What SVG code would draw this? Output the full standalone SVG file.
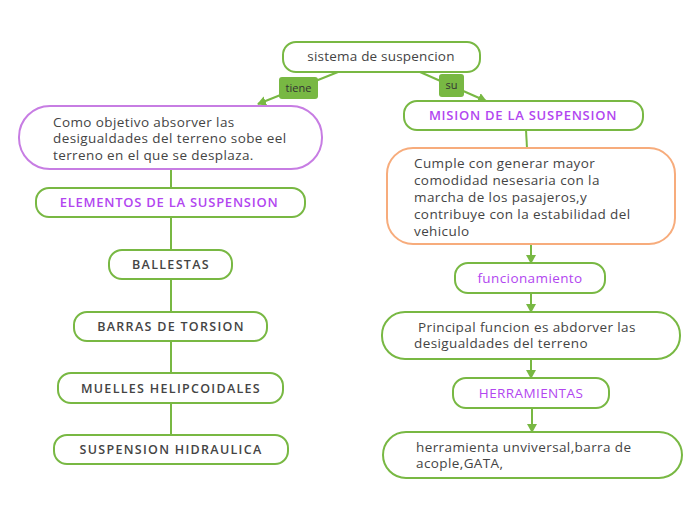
<svg xmlns="http://www.w3.org/2000/svg" width="697" height="520" viewBox="0 0 697 520">
<defs>
<marker id="ah" markerWidth="10" markerHeight="10" refX="8" refY="5" orient="auto" markerUnits="userSpaceOnUse">
<path d="M0,0 L9,5 L0,10 Z" fill="#78b843"/>
</marker>
</defs>
<style>
.b{fill:#fff;stroke:#78b843;stroke-width:2}
.p{fill:#fff;stroke:#c77de3;stroke-width:2}
.o{fill:#fff;stroke:#f7ac7c;stroke-width:2}
.c{stroke:#78b843;stroke-width:2;fill:none}
text{font-family:"Open Sans","Noto Sans",sans-serif;font-size:13.5px;letter-spacing:0.4px;fill:#444}
.r{letter-spacing:0.2px}
.t{fill:#b246f0;font-weight:600;font-size:13px;letter-spacing:0.75px}
.f{fill:#b246f0;font-size:13.5px;letter-spacing:0.4px}
.k{font-weight:600;font-size:12.5px;letter-spacing:1.3px;fill:#444}
.l{font-size:11px;letter-spacing:0;fill:#333}
</style>
<rect width="697" height="520" fill="#fff"/>
<g id="connectors">
<line class="c" x1="338" y1="72" x2="258" y2="104" marker-end="url(#ah)"/>
<line class="c" x1="420" y1="72" x2="486" y2="101" marker-end="url(#ah)"/>
<line class="c" x1="171" y1="169" x2="171" y2="188"/>
<line class="c" x1="171" y1="217" x2="171" y2="435"/>
<line class="c" x1="526" y1="130" x2="527" y2="148"/>
<line class="c" x1="531" y1="244" x2="531" y2="263" marker-end="url(#ah)"/>
<line class="c" x1="531" y1="293" x2="531" y2="312" marker-end="url(#ah)"/>
<line class="c" x1="531" y1="359" x2="531" y2="378" marker-end="url(#ah)"/>
<line class="c" x1="532" y1="408" x2="532" y2="432" marker-end="url(#ah)"/>
</g>
<g id="root">
<rect class="b" x="283" y="42" width="197" height="30" rx="13"/>
<text class="r" x="381" y="61" text-anchor="middle">sistema de suspencion</text>
</g>
<g id="label-tiene">
<rect x="279" y="77" width="39" height="22" rx="3" fill="#78b843"/>
<text class="l" x="298.5" y="92" text-anchor="middle">tiene</text>
</g>
<g id="label-su">
<rect x="439" y="74" width="25" height="23" rx="3" fill="#78b843"/>
<text class="l" x="451.5" y="89" text-anchor="middle">su</text>
</g>
<g id="objetivo">
<rect class="p" x="19" y="106" width="303" height="63" rx="31"/>
<text x="53" y="127">Como objetivo absorver las</text>
<text x="53" y="143.3">desigualdades del terreno sobe eel</text>
<text x="53" y="159.6">terreno en el que se desplaza.</text>
</g>
<g id="elementos">
<rect class="b" x="36" y="188" width="269" height="29" rx="13"/>
<text class="t" x="169" y="207" text-anchor="middle">ELEMENTOS DE LA SUSPENSION</text>
</g>
<g id="ballestas">
<rect class="b" x="109" y="250" width="123" height="29" rx="13"/>
<text class="k" x="171" y="269" text-anchor="middle">BALLESTAS</text>
</g>
<g id="barras">
<rect class="b" x="74" y="312" width="193" height="29" rx="13"/>
<text class="k" x="171" y="331" text-anchor="middle">BARRAS DE TORSION</text>
</g>
<g id="muelles">
<rect class="b" x="58" y="373" width="225" height="30" rx="13"/>
<text class="k" x="171" y="393" text-anchor="middle">MUELLES HELIPCOIDALES</text>
</g>
<g id="hidraulica">
<rect class="b" x="54" y="435" width="234" height="29" rx="13"/>
<text class="k" x="171" y="454" text-anchor="middle">SUSPENSION HIDRAULICA</text>
</g>
<g id="mision">
<rect class="b" x="404" y="101" width="239" height="29" rx="13"/>
<text class="t" x="523" y="120" text-anchor="middle">MISION DE LA SUSPENSION</text>
</g>
<g id="cumple">
<rect class="o" x="387" y="148" width="288" height="96" rx="26"/>
<text x="414" y="168">Cumple con generar mayor</text>
<text x="414" y="185">comodidad nesesaria con la</text>
<text x="414" y="202">marcha de los pasajeros,y</text>
<text x="414" y="219">contribuye con la estabilidad del</text>
<text x="414" y="236">vehiculo</text>
</g>
<g id="funcionamiento">
<rect class="b" x="455" y="263" width="150" height="30" rx="13"/>
<text class="f" x="530" y="283" text-anchor="middle">funcionamiento</text>
</g>
<g id="principal">
<rect class="b" x="382" y="312" width="298" height="47" rx="23"/>
<text x="418" y="332">Principal funcion es abdorver las</text>
<text x="414" y="348.3">desigualdades del terreno</text>
</g>
<g id="herramientas">
<rect class="b" x="453" y="378" width="156" height="30" rx="13"/>
<text class="f" x="531" y="398" text-anchor="middle">HERRAMIENTAS</text>
</g>
<g id="herramienta">
<rect class="b" x="383" y="432" width="299" height="46" rx="23"/>
<text x="416" y="452">herramienta unviversal,barra de</text>
<text x="416" y="468.3">acople,GATA,</text>
</g>
</svg>
